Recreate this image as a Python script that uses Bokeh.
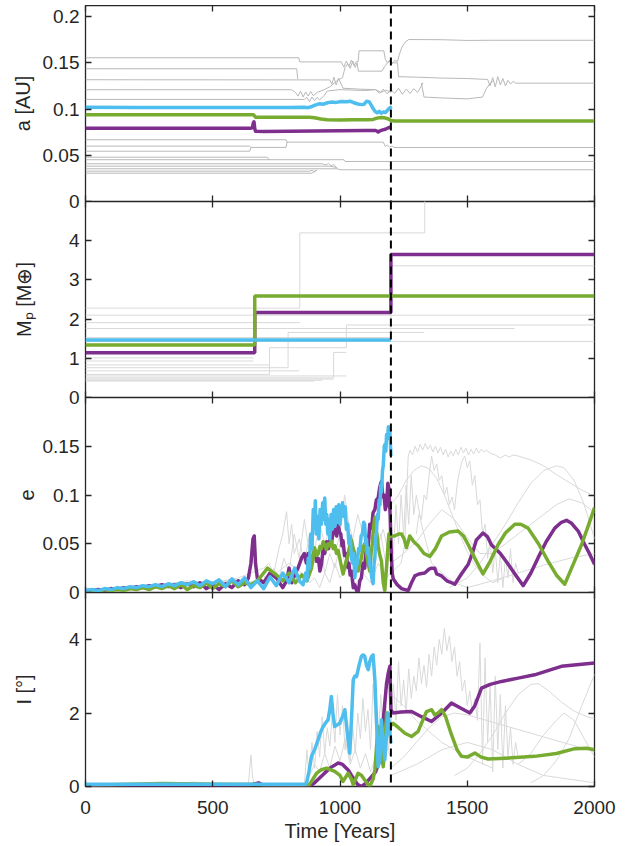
from bokeh.plotting import figure
from bokeh.models import Range1d, FixedTicker, LinearAxis, Span, CustomJSTickFormatter
from bokeh.layouts import column
from bokeh.embed import file_html
from bokeh.resources import INLINE

FONT = "Liberation Sans"
INK = "#262626"
PURPLE = "#7E2F8E"
GREEN = "#77AC30"
BLUE = "#4DBEEE"
GREY_A = "#b8b8b8"
GREY = "#d9d9d9"

time_ticks = [0, 500, 1000, 1500, 2000]
merger_time = 1200

# ---------------- semi-major axis a [AU] ----------------
a_ticks = [0, 0.05, 0.1, 0.15, 0.2]
a_blue = [(0,0.102),(200,0.1018),(400,0.1016),(600,0.1017),(800,0.1017),(860,0.1019),(875,0.1015),(890,0.1028),(905,0.1045),(920,0.1058),(935,0.1052),(950,0.1068),(965,0.1075),(985,0.1072),(1005,0.1082),(1025,0.1078),(1040,0.1085),(1055,0.1068),(1070,0.1055),(1085,0.1048),(1095,0.1052),(1105,0.1085),(1115,0.1078),(1122,0.1045),(1130,0.1005),(1138,0.0975),(1146,0.0958),(1154,0.0975),(1162,0.0955),(1170,0.0968),(1178,0.0962),(1186,0.0985),(1192,0.1005),(1198,0.1018),(1200,0.1000)]
a_green = [(0,0.0938),(660,0.0938),(664,0.0925),(668,0.0912),(880,0.0912),(900,0.0905),(925,0.0892),(950,0.0885),(1000,0.0882),(1050,0.0883),(1100,0.0885),(1130,0.0888),(1145,0.0902),(1160,0.0908),(1175,0.0905),(1188,0.0895),(1200,0.0876),(1215,0.0870),(1500,0.0870),(2000,0.0870)]
a_purple = [(0,0.0793),(650,0.0793),(656,0.0800),(659,0.0845),(662,0.0862),(665,0.0790),(668,0.0760),(700,0.0758),(900,0.0762),(1100,0.0767),(1140,0.0768),(1146,0.0760),(1150,0.0752),(1155,0.0762),(1165,0.0772),(1178,0.0782),(1190,0.0798),(1200,0.0806)]
a_grey_lines = [
 [(0,0.1555),(838,0.1555),(842,0.1510),(1005,0.1510),(1015,0.1455),(1025,0.1520),(1035,0.1460),(1045,0.1530),(1055,0.1470),(1065,0.1515),(1071,0.1510),(1075,0.1630),(1172,0.1630),(1178,0.1540),(1186,0.1500),(1195,0.1530),(1205,0.1490),(1215,0.1525),(1226,0.1515),(1232,0.1580),(1242,0.1660),(1255,0.1720),(1270,0.1752),(1400,0.1750),(1500,0.1742),(1600,0.1744),(2000,0.1744)],
 [(0,0.1436),(830,0.1436),(834,0.1325)],
 [(0,0.1317),(960,0.1315),(968,0.1270),(976,0.1345),(985,0.1260),(994,0.1335),(1003,0.1280),(1012,0.1225),(1080,0.1215),(1140,0.1210),(1155,0.1170),(1170,0.1215),(1185,0.1165),(1200,0.1210),(1215,0.1170),(1230,0.1225),(1245,0.1160),(1260,0.1215),(1275,0.1170),(1290,0.1220),(1305,0.1180),(1320,0.1250),(1326,0.1285)],
 [(0,0.1209),(810,0.1209),(825,0.1180),(835,0.1140),(845,0.1195),(855,0.1130),(865,0.1185),(875,0.1140),(885,0.1190),(895,0.1145),(910,0.1180),(930,0.1200),(960,0.1240),(990,0.1310),(1010,0.1340),(1020,0.1450),(1030,0.1490),(1040,0.1440),(1050,0.1520),(1060,0.1450),(1067,0.1500),(1072,0.1410),(1165,0.1410),(1175,0.1460),(1190,0.1510),(1200,0.1520)],
 [(0,0.1104),(860,0.1104),(870,0.1125),(880,0.1080),(890,0.1130),(900,0.1090),(910,0.1125),(920,0.1100),(935,0.1135),(950,0.1195),(1000,0.1210),(1100,0.1200),(1140,0.1210),(1160,0.1180),(1180,0.1205),(1200,0.1180)],
 [(1200,0.1500),(1226,0.1500),(1230,0.1350),(1300,0.1345),(1400,0.1335),(1500,0.1330),(1580,0.1320),(1590,0.1250),(1600,0.1340),(1610,0.1240),(1620,0.1350),(1630,0.1260),(1640,0.1330),(1650,0.1250),(1660,0.1310),(1670,0.1270),(1680,0.1300),(1690,0.1280),(2000,0.1280)],
 [(1320,0.1280),(1330,0.1130),(1400,0.1120),(1500,0.1110),(1560,0.1130),(1575,0.1220),(1590,0.1280),(1600,0.1300)],
 [(0,0.0668),(788,0.0668),(792,0.0642),(1170,0.0642),(1178,0.0595),(1186,0.0610),(1194,0.0590),(1205,0.0600),(1212,0.0584),(2000,0.0584)],
 [(0,0.0599),(645,0.0599),(650,0.0585),(788,0.0585),(792,0.0642)],
 [(0,0.0544),(645,0.0544),(650,0.0585)],
 [(0,0.0479),(715,0.0479),(722,0.0452)],
 [(0,0.0452),(1015,0.0452),(1020,0.0433),(2000,0.0433)],
 [(0,0.0408),(930,0.0408),(945,0.0395),(955,0.0412),(965,0.0385),(975,0.0402),(985,0.0372)],
 [(0,0.0382),(960,0.0382),(980,0.0372),(990,0.0362)],
 [(0,0.0354),(990,0.0354),(1000,0.0343),(2000,0.0343)],
 [(0,0.0328),(880,0.0328),(890,0.0338),(900,0.0320),(910,0.0343)],
 [(0,0.0306),(890,0.0306),(905,0.0338)],
]

# ---------------- planet mass Mp [M_earth] (step functions) ----------------
m_ticks = [0, 1, 2, 3, 4]
m_blue = [(0,1.47),(1200,1.47)]
m_green = [(0,1.34),(665,2.59),(2000,2.59)]
m_purple = [(0,1.14),(665,2.17),(1200,3.65),(2000,3.65)]
m_grey_lines = [
 [(0,2.28),(842,4.20),(1333,5.60),(2000,5.60)],
 [(0,2.10),(2000,2.10)],
 [(0,1.91),(842,1.91)],
 [(0,1.76),(1686,1.76)],
 [(0,0.76),(796,1.66),(1330,1.66)],
 [(0,1.53),(1200,3.36),(2000,3.36)],
 [(0,1.43),(2000,1.43)],
 [(0,0.59),(723,1.27),(1025,1.85),(2000,1.85)],
 [(0,1.01),(660,1.01)],
 [(0,0.93),(660,0.93)],
 [(0,0.83),(720,0.83)],
 [(0,0.68),(840,0.68)],
 [(0,0.55),(1025,0.55)],
 [(0,0.50),(975,1.15),(1025,1.15)],
 [(0,0.47),(975,0.47)],
 [(0,0.44),(930,0.44)],
 [(0,0.42),(900,0.42)],
]

# ---------------- eccentricity e ----------------
e_ticks = [0, 0.05, 0.1, 0.15]
e_blue = [(0,0.002),(25,0.003),(50,0.002),(75,0.004),(100,0.003),(125,0.005),(150,0.004),(175,0.006),(200,0.005),(225,0.007),(250,0.006),(275,0.008),(300,0.006),(325,0.009),(350,0.007),(375,0.010),(400,0.008),(425,0.011),(450,0.007),(475,0.012),(500,0.009),(525,0.013),(550,0.006),(575,0.014),(600,0.008),(625,0.015),(650,0.005),(675,0.012),(700,0.004),(725,0.016),(750,0.007),(775,0.020),(800,0.010),(822,0.025),(840,0.012),(855,0.008),(865,0.020),(870,0.012),(875,0.035),(880,0.025),(885,0.060),(890,0.045),(895,0.085),(900,0.070),(903,0.094),(907,0.060),(912,0.078),(917,0.055),(922,0.085),(927,0.070),(932,0.092),(936,0.075),(940,0.097),(944,0.070),(948,0.080),(952,0.060),(956,0.075),(960,0.055),(965,0.080),(970,0.065),(975,0.085),(980,0.068),(985,0.088),(990,0.072),(995,0.090),(1000,0.070),(1005,0.085),(1010,0.092),(1015,0.078),(1020,0.088),(1025,0.065),(1030,0.070),(1035,0.050),(1040,0.058),(1045,0.035),(1050,0.030),(1054,0.040),(1058,0.015),(1063,0.025),(1068,0.030),(1073,0.045),(1078,0.043),(1083,0.058),(1088,0.060),(1093,0.072),(1097,0.070),(1101,0.050),(1104,0.055),(1108,0.040),(1111,0.046),(1116,0.030),(1120,0.025),(1125,0.015),(1130,0.009),(1134,0.030),(1137,0.035),(1140,0.055),(1143,0.060),(1147,0.080),(1150,0.075),(1154,0.095),(1157,0.090),(1160,0.110),(1163,0.103),(1167,0.125),(1170,0.130),(1174,0.150),(1177,0.152),(1180,0.145),(1183,0.162),(1187,0.158),(1190,0.170),(1193,0.160),(1196,0.166),(1200,0.140)]
e_purple = [(0,0.002),(25,0.002),(50,0.003),(75,0.002),(100,0.004),(125,0.003),(150,0.005),(175,0.004),(200,0.006),(225,0.005),(250,0.007),(275,0.006),(300,0.008),(325,0.006),(350,0.008),(375,0.005),(400,0.009),(425,0.006),(450,0.010),(475,0.004),(500,0.008),(525,0.003),(550,0.009),(575,0.005),(600,0.012),(625,0.008),(640,0.015),(650,0.030),(658,0.055),(663,0.058),(668,0.030),(675,0.015),(700,0.010),(725,0.020),(750,0.015),(775,0.005),(790,0.012),(800,0.025),(810,0.010),(825,0.020),(835,0.025),(850,0.036),(860,0.040),(868,0.030),(875,0.040),(882,0.028),(890,0.035),(900,0.043),(908,0.032),(915,0.035),(921,0.022),(927,0.029),(934,0.045),(940,0.040),(948,0.052),(955,0.045),(960,0.055),(966,0.050),(973,0.062),(980,0.065),(987,0.058),(993,0.070),(998,0.062),(1003,0.060),(1008,0.048),(1012,0.053),(1018,0.038),(1025,0.040),(1030,0.026),(1035,0.030),(1040,0.018),(1045,0.022),(1052,0.005),(1058,0.008),(1065,0.002),(1071,0.000),(1078,0.012),(1084,0.015),(1090,0.030),(1097,0.025),(1104,0.050),(1110,0.045),(1117,0.070),(1124,0.066),(1130,0.082),(1137,0.085),(1143,0.095),(1150,0.097),(1156,0.108),(1163,0.114),(1168,0.098),(1173,0.100),(1178,0.085),(1183,0.090),(1188,0.112),(1192,0.107),(1197,0.080),(1200,0.050),(1205,0.020),(1209,0.014),(1225,0.008),(1242,0.004),(1255,0.003),(1268,0.002),(1281,0.010),(1294,0.017),(1310,0.019),(1333,0.020),(1350,0.024),(1360,0.025),(1372,0.025),(1380,0.019),(1399,0.017),(1420,0.012),(1438,0.010),(1451,0.0085),(1477,0.019),(1504,0.029),(1520,0.040),(1536,0.054),(1562,0.061),(1580,0.057),(1595,0.049),(1630,0.040),(1661,0.029),(1690,0.018),(1720,0.007),(1750,0.020),(1779,0.036),(1810,0.052),(1844,0.066),(1870,0.072),(1890,0.074),(1910,0.071),(1936,0.063),(1960,0.050),(1980,0.040),(2000,0.029)]
e_green = [(0,0.001),(25,0.002),(50,0.001),(75,0.003),(100,0.002),(125,0.003),(150,0.002),(175,0.004),(200,0.003),(225,0.005),(250,0.003),(275,0.006),(300,0.004),(325,0.007),(350,0.004),(375,0.008),(400,0.003),(425,0.007),(450,0.005),(475,0.010),(500,0.004),(525,0.009),(550,0.006),(575,0.012),(600,0.006),(625,0.010),(650,0.008),(675,0.012),(700,0.020),(715,0.025),(730,0.022),(750,0.018),(775,0.012),(800,0.020),(825,0.010),(850,0.018),(870,0.012),(888,0.025),(900,0.046),(908,0.038),(915,0.040),(921,0.047),(927,0.045),(934,0.052),(940,0.049),(947,0.044),(953,0.050),(960,0.048),(966,0.053),(973,0.045),(980,0.048),(987,0.040),(993,0.043),(1003,0.030),(1012,0.019),(1022,0.030),(1032,0.039),(1038,0.048),(1045,0.054),(1052,0.045),(1058,0.040),(1065,0.030),(1071,0.022),(1078,0.030),(1084,0.035),(1090,0.046),(1097,0.050),(1102,0.042),(1107,0.035),(1112,0.028),(1117,0.022),(1122,0.040),(1127,0.050),(1132,0.068),(1137,0.077),(1141,0.065),(1145,0.060),(1150,0.048),(1155,0.040),(1163,0.032),(1170,0.010),(1176,0.002),(1184,0.030),(1192,0.060),(1200,0.058),(1215,0.058),(1230,0.060),(1242,0.060),(1252,0.055),(1261,0.046),(1268,0.052),(1274,0.058),(1290,0.052),(1307,0.048),(1330,0.040),(1353,0.037),(1375,0.045),(1399,0.058),(1430,0.062),(1464,0.063),(1485,0.058),(1504,0.049),(1530,0.035),(1562,0.019),(1590,0.032),(1621,0.049),(1650,0.061),(1687,0.070),(1710,0.070),(1739,0.066),(1780,0.050),(1818,0.032),(1850,0.018),(1883,0.0085),(1910,0.025),(1949,0.049),(1975,0.068),(2000,0.087)]
e_grey_lines = [
 [(0,0.002),(100,0.004),(200,0.006),(300,0.008),(400,0.012),(500,0.010),(600,0.015),(650,0.020),(700,0.025),(720,0.030),(740,0.020),(760,0.045),(775,0.060),(790,0.083),(800,0.050),(810,0.070),(820,0.040),(840,0.055),(860,0.030),(880,0.060),(900,0.045),(920,0.070),(940,0.050),(960,0.065),(980,0.040),(1000,0.060),(1018,0.100),(1035,0.070),(1050,0.055),(1070,0.080),(1090,0.060),(1110,0.045),(1130,0.070),(1150,0.050),(1170,0.065),(1190,0.040),(1200,0.060)],
 [(0,0.001),(150,0.003),(300,0.007),(450,0.010),(600,0.013),(650,0.010),(700,0.018),(720,0.010),(740,0.025),(760,0.015),(780,0.035),(800,0.020),(820,0.060),(840,0.035),(860,0.075),(880,0.040),(900,0.030),(920,0.050),(940,0.020),(960,0.040),(980,0.025),(1000,0.050),(1020,0.030),(1040,0.045),(1060,0.020),(1080,0.035),(1100,0.050),(1120,0.030),(1140,0.040),(1160,0.060),(1180,0.030),(1200,0.050)],
 [(0,0.002),(200,0.005),(400,0.009),(600,0.012),(700,0.010),(750,0.020),(800,0.030),(850,0.020),(880,0.010),(900,0.015),(920,0.005),(940,0.020),(960,0.010),(980,0.030),(1000,0.015),(1030,0.025),(1060,0.008),(1090,0.020),(1120,0.010),(1150,0.030),(1180,0.015),(1200,0.020)],
 [(1200,0.020),(1220,0.025),(1240,0.030),(1255,0.050),(1262,0.100),(1268,0.140),(1275,0.146),(1285,0.141),(1295,0.150),(1305,0.144),(1315,0.152),(1325,0.146),(1335,0.153),(1345,0.147),(1355,0.151),(1365,0.144),(1375,0.150),(1385,0.143),(1395,0.149),(1405,0.141),(1415,0.147),(1425,0.139),(1435,0.145),(1445,0.140),(1455,0.147),(1465,0.141),(1475,0.149),(1485,0.143),(1495,0.148),(1505,0.141),(1515,0.147),(1525,0.142),(1535,0.148),(1545,0.143),(1555,0.147),(1565,0.144),(1575,0.146),(1590,0.143),(1610,0.141),(1630,0.138),(1650,0.141),(1665,0.139),(1680,0.141),(1700,0.140),(1750,0.136),(1800,0.130),(1850,0.121),(1900,0.113),(1950,0.105),(2000,0.099)],
 [(1200,0.090),(1230,0.100),(1260,0.115),(1290,0.125),(1320,0.130),(1350,0.127),(1380,0.117),(1410,0.100),(1440,0.080),(1470,0.060),(1500,0.042),(1530,0.028),(1560,0.018),(1600,0.010),(1640,0.015)],
 [(1300,0.060),(1310,0.080),(1320,0.075),(1330,0.100),(1340,0.095),(1350,0.120),(1360,0.140),(1370,0.125),(1380,0.132),(1390,0.115),(1400,0.120),(1410,0.100),(1420,0.108),(1430,0.090),(1440,0.098),(1450,0.085),(1460,0.110),(1470,0.125),(1480,0.135),(1490,0.140),(1500,0.128),(1510,0.135),(1520,0.110),(1530,0.120),(1540,0.090),(1550,0.095),(1560,0.060),(1570,0.070),(1580,0.035),(1590,0.055),(1600,0.020),(1610,0.045),(1620,0.010),(1630,0.040),(1640,0.005),(1650,0.035),(1660,0.015),(1670,0.045),(1680,0.010),(1690,0.030),(1700,0.020)],
 [(1430,0.005),(1500,0.015),(1550,0.030),(1600,0.050),(1650,0.070),(1700,0.092),(1750,0.112),(1800,0.125),(1850,0.130),(1880,0.128),(1920,0.115),(1960,0.090),(2000,0.055)],
 [(1200,0.030),(1250,0.040),(1300,0.052),(1350,0.070),(1400,0.085),(1450,0.075),(1500,0.056),(1550,0.040),(1600,0.040),(1650,0.050),(1700,0.060),(1750,0.070),(1800,0.080),(1850,0.090),(1900,0.096),(1950,0.092),(2000,0.082)],
 [(1200,0.070),(1210,0.040),(1220,0.090),(1230,0.050),(1240,0.100),(1250,0.060),(1260,0.110),(1270,0.070),(1280,0.120),(1290,0.080),(1300,0.100),(1320,0.070),(1340,0.050),(1360,0.030),(1400,0.020),(1450,0.010),(1500,0.005),(1600,0.012),(1700,0.020),(1800,0.028),(1900,0.035),(2000,0.040)],
]

# ---------------- inclination I [deg] ----------------
i_ticks = [0, 2, 4]
i_blue = [(0,0.06),(860,0.06),(868,0.08),(878,0.40),(888,0.82),(900,1.00),(914,1.27),(925,1.50),(934,1.63),(945,1.75),(953,1.81),(960,2.10),(966,2.45),(972,2.00),(979,1.63),(990,1.68),(999,1.72),(1010,1.90),(1019,2.09),(1028,1.50),(1038,0.91),(1045,1.80),(1052,2.90),(1058,3.00),(1065,2.99),(1075,3.30),(1084,3.54),(1091,3.58),(1097,3.55),(1104,3.30),(1111,3.18),(1117,3.40),(1124,3.54),(1130,3.58),(1137,2.90),(1144,1.70),(1150,0.54),(1157,0.77),(1163,1.81),(1170,1.20),(1176,0.73),(1183,1.40),(1189,2.00),(1196,1.50),(1200,1.18)]
i_purple = [(0,0.02),(300,0.03),(450,0.05),(500,0.02),(650,0.04),(680,0.10),(700,0.02),(880,0.00),(900,0.10),(930,0.30),(960,0.50),(993,0.64),(1010,0.60),(1032,0.45),(1050,0.25),(1070,0.05),(1084,0.00),(1100,0.08),(1124,0.27),(1140,0.40),(1157,0.73),(1170,1.81),(1183,2.81),(1190,3.10),(1196,3.27),(1200,2.09),(1209,2.00),(1240,2.03),(1281,2.04),(1320,1.90),(1360,1.77),(1400,2.00),(1438,2.27),(1470,2.15),(1510,2.00),(1530,2.20),(1556,2.68),(1590,2.78),(1635,2.86),(1700,2.95),(1765,3.04),(1820,3.16),(1870,3.27),(1940,3.32),(2000,3.36)]
i_green = [(0,0.05),(100,0.05),(300,0.08),(500,0.06),(700,0.05),(880,0.05),(888,0.14),(908,0.36),(925,0.45),(947,0.50),(979,0.41),(1000,0.30),(1012,0.14),(1032,0.36),(1045,0.20),(1052,0.05),(1071,0.36),(1085,0.30),(1097,0.18),(1117,0.00),(1130,0.20),(1137,0.45),(1145,1.20),(1150,1.63),(1160,1.00),(1170,0.54),(1178,1.30),(1183,2.00),(1190,1.80),(1196,1.63),(1209,1.72),(1230,1.60),(1255,1.45),(1281,1.36),(1307,1.50),(1325,1.80),(1340,2.04),(1360,2.09),(1372,1.95),(1385,2.00),(1399,2.09),(1415,1.90),(1438,1.41),(1460,1.00),(1477,0.82),(1500,0.80),(1530,0.91),(1555,0.80),(1582,0.75),(1650,0.77),(1765,0.82),(1850,0.90),(1923,1.03),(1970,1.04),(2000,1.00)]
i_grey_lines = [
 [(0,0.02),(200,0.04),(350,0.08),(420,0.12),(480,0.10),(560,0.06),(640,0.04),(650,0.86),(656,0.30),(662,0.05),(860,0.05),(870,1.00),(878,0.30),(890,1.20),(900,0.50),(910,1.50),(920,0.80),(930,1.90),(940,0.90),(950,1.60),(960,1.10),(970,2.00),(980,1.20),(990,2.50),(1000,1.40),(1010,2.20),(1020,1.00),(1030,1.80),(1040,0.70),(1050,1.60),(1060,0.90),(1070,2.00),(1080,1.30),(1090,2.40),(1100,1.50),(1110,2.10),(1120,1.00),(1130,2.80),(1140,1.60),(1150,1.20),(1160,2.50),(1170,1.40),(1180,2.20),(1190,1.00),(1200,1.50)],
 [(0,0.01),(300,0.05),(600,0.03),(860,0.02),(880,0.30),(900,0.60),(920,0.40),(940,0.90),(960,0.50),(980,1.10),(1000,0.70),(1020,1.30),(1040,0.60),(1060,1.00),(1080,0.50),(1100,0.90),(1120,0.40),(1140,0.80),(1160,0.60),(1180,1.10),(1200,0.80)],
 [(1200,1.50),(1210,2.80),(1220,1.80),(1230,3.40),(1240,2.20),(1250,2.90),(1260,2.00),(1270,3.20),(1280,2.40),(1290,3.00),(1300,2.60),(1310,3.50),(1320,2.80),(1330,3.30),(1340,2.70),(1350,3.60),(1360,3.00),(1370,3.80),(1380,3.30),(1390,4.00),(1400,3.60),(1410,4.30),(1420,3.70),(1430,4.10),(1440,3.40),(1450,3.80),(1460,3.00),(1470,3.40),(1480,2.60),(1490,2.90),(1500,2.20),(1510,2.60),(1520,2.00),(1530,2.40),(1540,1.80),(1550,3.90),(1560,0.60),(1570,3.50),(1580,1.20),(1590,2.80),(1600,0.40),(1610,3.00),(1620,1.00),(1630,2.50),(1640,0.50),(1650,2.20),(1660,0.80),(1670,1.60),(1680,0.60),(1690,1.20),(1700,0.80)],
 [(1200,0.50),(1250,0.80),(1300,1.20),(1350,1.60),(1400,1.90),(1450,2.00),(1500,1.95),(1550,1.85),(1600,1.75),(1650,1.65),(1700,1.55),(1750,1.45),(1800,1.35),(1850,1.25),(1900,1.15),(1950,1.05),(2000,0.95)],
 [(1450,0.30),(1500,0.50),(1550,0.90),(1600,1.40),(1650,2.00),(1700,2.50),(1750,2.78),(1780,2.80),(1820,2.60),(1870,2.30),(1920,2.05),(1970,1.90),(2000,1.85)],
 [(1750,0.10),(1800,0.30),(1850,0.70),(1900,1.30),(1950,2.20),(2000,3.05)],
 [(1700,0.60),(1750,0.90),(1800,1.40),(1850,1.80),(1880,2.00),(1920,1.80),(1960,1.30),(2000,0.80)],
 [(1200,0.30),(1300,0.60),(1400,1.00),(1500,1.20),(1600,1.00),(1700,0.60),(1800,0.30),(1900,0.20),(2000,0.10)],
 [(1200,2.50),(1250,2.20),(1300,1.80),(1350,1.50),(1400,1.20),(1450,1.00),(1500,0.80),(1550,0.65),(1600,0.50)],
]


def xy(pairs):
    return [p[0] for p in pairs], [p[1] for p in pairs]


fmt_code = "return String(Math.round(tick*1000)/1000);"


def tick_axis(ticks, labels):
    ax = LinearAxis(ticker=FixedTicker(ticks=ticks),
                    formatter=CustomJSTickFormatter(code=fmt_code))
    ax.major_tick_in = 6
    ax.major_tick_out = 0
    ax.minor_tick_in = 0
    ax.minor_tick_out = 0
    ax.axis_line_color = None
    ax.major_tick_line_color = INK
    ax.major_tick_line_width = 1.3
    if labels:
        ax.major_label_text_font = FONT
        ax.major_label_text_font_size = "19px"
        ax.major_label_text_color = INK
    else:
        ax.major_label_text_color = None
        ax.major_label_standoff = 0
    return ax


def panel(y_end, yticks, ylabel, label_standoff, frame_h, last=False):
    p = figure(frame_width=509, frame_height=frame_h,
               x_range=Range1d(0, 2000), y_range=Range1d(0, y_end),
               output_backend="svg", toolbar_location=None,
               x_axis_location=None, y_axis_location=None,
               min_border_left=76, min_border_right=30, min_border_top=0,
               min_border_bottom=0 if last else 14,
               border_fill_color=None, background_fill_color="white",
               outline_line_color=INK, outline_line_width=1.3)
    p.grid.visible = False
    left = tick_axis(yticks, True)
    left.major_label_standoff = 6
    left.axis_label = ylabel
    left.axis_label_text_font = FONT
    left.axis_label_text_font_size = "20px"
    left.axis_label_text_font_style = "normal"
    left.axis_label_text_color = INK
    left.axis_label_standoff = label_standoff
    p.add_layout(left, "left")
    p.add_layout(tick_axis(yticks, False), "right")
    p.add_layout(tick_axis(time_ticks, False), "above")
    if last:
        bottom = tick_axis(time_ticks, True)
        bottom.major_label_standoff = 14
        bottom.axis_label = "Time [Years]"
        bottom.axis_label_text_font = FONT
        bottom.axis_label_text_font_size = "20px"
        bottom.axis_label_text_font_style = "normal"
        bottom.axis_label_text_color = INK
        bottom.axis_label_standoff = 3
        p.add_layout(bottom, "below")
    else:
        p.add_layout(tick_axis(time_ticks, False), "below")
    return p


def add_lines(p, grey_lines, grey_color, purple, green, blue, step=False):
    for g in grey_lines:
        x, y = xy(g)
        if step:
            p.step(x, y, mode="after", line_color=grey_color, line_width=1)
        else:
            p.line(x, y, line_color=grey_color, line_width=1)
    for series, col in ((purple, PURPLE), (green, GREEN), (blue, BLUE)):
        x, y = xy(series)
        if step:
            p.step(x, y, mode="after", line_color=col, line_width=3.5)
        else:
            p.line(x, y, line_color=col, line_width=3.5, line_join="round")
    p.add_layout(Span(location=merger_time, dimension="height", line_color="black",
                      line_width=2, line_dash="8 5"))


p1 = panel(0.212, a_ticks, "a [AU]", 6, 196)
add_lines(p1, a_grey_lines, GREY_A, a_purple, a_green, a_blue)

p2 = panel(5.0, m_ticks, "Mₚ [M⊕]", 31, 196)
add_lines(p2, m_grey_lines, GREY, m_purple, m_green, m_blue, step=True)

p3 = panel(0.2, e_ticks, "e", 6, 195)
add_lines(p3, e_grey_lines, GREY, e_purple, e_green, e_blue)

p4 = panel(5.28, i_ticks, "I [°]", 31, 194, last=True)
add_lines(p4, i_grey_lines, GREY, i_purple, i_green, i_blue)

p1.margin = (5, 0, 0, 8)
p2.margin = (-14, 0, 0, 8)
p3.margin = (-14, 0, 0, 8)
p4.margin = (-14, 0, 0, 8)

layout = column(p1, p2, p3, p4)

open("out.html", "w").write(file_html(layout, INLINE))
